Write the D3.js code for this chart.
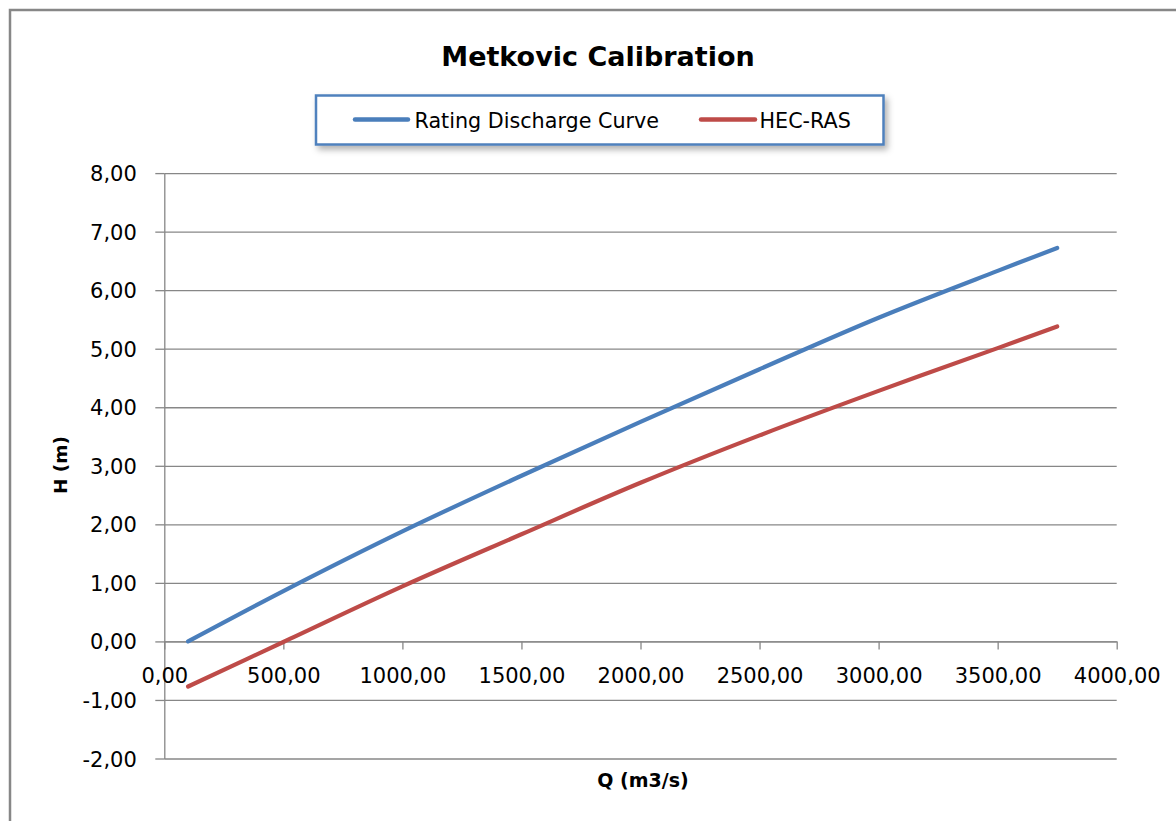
<!DOCTYPE html>
<html>
<head>
<meta charset="utf-8">
<script src="https://cdn.jsdelivr.net/npm/d3@7"></script>
<style>
  html, body { margin: 0; padding: 0; background: #fff; }
  svg { display: block; font-family: "DejaVu Sans", sans-serif; }
</style>
</head>
<body>
<svg id="chart" width="1176" height="821"></svg>
<script>
// ---- data ----
const qValues = [100, 500, 1000, 1500, 2000, 2500, 3000, 3500, 3750];
const ratingCurve = [0.00, 0.86, 1.88, 2.83, 3.75, 4.65, 5.53, 6.33, 6.72];
const hecRas = [-0.77, -0.01, 0.94, 1.83, 2.71, 3.52, 4.28, 5.01, 5.38];
const seriesNames = ["Rating Discharge Curve", "HEC-RAS"];
const seriesColors = ["#4A7EBB", "#BE4B48"];
const xTicks = [0, 500, 1000, 1500, 2000, 2500, 3000, 3500, 4000];
const yTicks = [-2, -1, 0, 1, 2, 3, 4, 5, 6, 7, 8];
const titleText = "Metkovic Calibration";
const xTitle = "Q (m3/s)";
const yTitle = "H (m)";

// ---- layout ----
(function () {
const svg = d3.select("#chart");
const pLeft = 164.3, pRight = 1116.7, pTop = 173.1, pBottom = 758.5;
const x = d3.scaleLinear().domain([0, 4000]).range([pLeft, pRight]);
const y = d3.scaleLinear().domain([-2, 8]).range([pBottom, pTop]);
const locale = d3.formatLocale({ decimal: ",", thousands: "", grouping: [3], currency: ["", ""], minus: "-" });
const fmt = locale.format(".2f");
const gridColor = "#878787";

// outer chart border (top & left visible)
svg.append("path")
  .attr("d", "M10,821 L10,10 L1176,10")
  .attr("fill", "none").attr("stroke", "#878787").attr("stroke-width", 2.5);

// defs: legend shadow
const defs = svg.append("defs");
const f = defs.append("filter").attr("id", "shadow").attr("x", "-10%").attr("y", "-30%").attr("width", "120%").attr("height", "170%");
f.append("feDropShadow").attr("dx", 3).attr("dy", 4).attr("stdDeviation", 3)
  .attr("flood-color", "#000").attr("flood-opacity", 0.3);

// gridlines
const grid = svg.append("g").attr("transform", `translate(${pLeft},0)`)
  .call(d3.axisLeft(y).tickValues(yTicks).tickSize(-(pRight - pLeft)).tickFormat(""));
grid.select(".domain").remove();
grid.selectAll("line").attr("stroke", gridColor).attr("stroke-width", 1.3);

// y axis
const yAxis = svg.append("g").attr("transform", `translate(${pLeft},0)`)
  .call(d3.axisLeft(y).tickValues(yTicks).tickSizeInner(9).tickSizeOuter(0).tickPadding(18).tickFormat(fmt));
yAxis.select(".domain").attr("stroke", gridColor).attr("stroke-width", 1.3);
yAxis.selectAll("line").attr("stroke", gridColor).attr("stroke-width", 1.3);
yAxis.selectAll("text").attr("font-size", 21).attr("fill", "#000")
  .attr("font-family", "DejaVu Sans").attr("dy", "0.36em").attr("x", -27.5);

// x axis at H = 0
const xAxis = svg.append("g").attr("transform", `translate(0,${y(0)})`)
  .call(d3.axisBottom(x).tickValues(xTicks).tickSizeInner(8).tickSizeOuter(0).tickFormat(fmt));
xAxis.select(".domain").attr("stroke", gridColor).attr("stroke-width", 1.3);
xAxis.selectAll("line").attr("stroke", gridColor).attr("stroke-width", 1.3);
xAxis.selectAll("text").attr("font-size", 21).attr("fill", "#000")
  .attr("font-family", "DejaVu Sans").attr("y", 41.5).attr("dy", 0);

// lines
const line = d3.line().x((d, i) => x(qValues[i])).y(d => y(d)).curve(d3.curveCatmullRom.alpha(0.5));
[ratingCurve, hecRas].forEach((s, k) => {
  svg.append("path").datum(s).attr("d", line)
    .attr("fill", "none").attr("stroke", seriesColors[k]).attr("stroke-width", 4.2)
    .attr("stroke-linecap", "round").attr("stroke-linejoin", "round");
});

// title
svg.append("text").attr("x", 598).attr("y", 66).attr("text-anchor", "middle")
  .attr("font-size", 27).attr("font-weight", "bold").attr("fill", "#000").text(titleText);

// axis titles
svg.append("text").attr("x", 643).attr("y", 787).attr("text-anchor", "middle")
  .attr("font-size", 19).attr("font-weight", "bold").attr("fill", "#000").text(xTitle);
svg.append("text").attr("transform", "translate(67,465) rotate(-90)").attr("text-anchor", "middle")
  .attr("font-size", 18.5).attr("font-weight", "bold").attr("fill", "#000").text(yTitle);

// legend
const lg = svg.append("g");
lg.append("rect").attr("x", 316).attr("y", 95.5).attr("width", 567.5).attr("height", 49)
  .attr("fill", "#fff").attr("stroke", "#4F81BD").attr("stroke-width", 2.5).attr("filter", "url(#shadow)");
const legendItems = [
  { sx: 355, ex: 408, tx: 414.5 },
  { sx: 701, ex: 755, tx: 759.5 }
];
legendItems.forEach((it, k) => {
  lg.append("line").attr("x1", it.sx).attr("x2", it.ex).attr("y1", 119.5).attr("y2", 119.5)
    .attr("stroke", seriesColors[k]).attr("stroke-width", 4.5).attr("stroke-linecap", "round");
  lg.append("text").attr("x", it.tx).attr("y", 127.5).attr("font-size", 20.7).attr("fill", "#000")
    .text(seriesNames[k]);
});
})();
</script>
</body>
</html>
